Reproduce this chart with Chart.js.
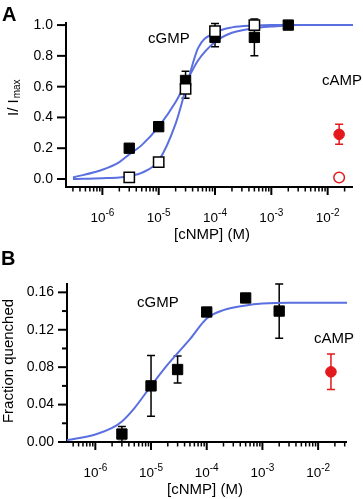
<!DOCTYPE html>
<html>
<head>
<meta charset="utf-8">
<script src="https://cdn.jsdelivr.net/npm/chart.js@4"></script>
<style>
  html, body { margin:0; padding:0; background:#fff; width:363px; height:499px; overflow:hidden; }
  .panel { position:absolute; left:0; width:363px; }
  #wrapA { top:0; height:250px; }
  #wrapB { top:250px; height:249px; }
</style>
</head>
<body>
<div id="wrapA" class="panel"><canvas id="chartA" width="363" height="250"></canvas></div>
<div id="wrapB" class="panel"><canvas id="chartB" width="363" height="249"></canvas></div>
<script>
// ---- shared ticks ----
const X_MAJOR = [1e-6, 1e-5, 1e-4, 1e-3, 1e-2];
const X_MAJOR_EXP = ["-6", "-5", "-4", "-3", "-2"];
const X_MINOR = [3e-7,4e-7,5e-7,6e-7,7e-7,8e-7,9e-7,
                 2e-6,3e-6,4e-6,5e-6,6e-6,7e-6,8e-6,9e-6,
                 2e-5,3e-5,4e-5,5e-5,6e-5,7e-5,8e-5,9e-5,
                 2e-4,3e-4,4e-4,5e-4,6e-4,7e-4,8e-4,9e-4,
                 2e-3,3e-3,4e-3,5e-3,6e-3,7e-3,8e-3,9e-3,
                 2e-2,3e-2];

// ---- panel A: I/Imax ----
const A_Y_MAJOR = [0, 0.2, 0.4, 0.6, 0.8, 1.0];
const A_FILLED_X   = [3e-6, 1e-5, 3e-5, 1e-4, 5e-4, 2e-3];
const A_FILLED_Y   = [0.20, 0.34, 0.64, 0.92, 0.92, 1.00];
const A_FILLED_ERR = [0, 0, 0.06, 0.06, 0.12, 0];
const A_OPEN_X   = [3e-6, 1e-5, 3e-5, 1e-4, 5e-4];
const A_OPEN_Y   = [0.01, 0.11, 0.585, 0.96, 1.00];
const A_OPEN_ERR = [0, 0, 0.06, 0.05, 0];
const A_CAMP_X = [1.6e-2];
const A_CAMP_Y = [0.29];
const A_CAMP_ERR = [0.065];
const A_CAMP_OPEN_X = [1.6e-2];
const A_CAMP_OPEN_Y = [0.01];
const A_FIT_X        = [3e-7, 1e-6, 2e-6, 3e-6, 5e-6, 1e-5, 2e-5, 3e-5, 5e-5, 1e-4, 2e-4, 5e-4, 1e-3, 3e-3, 1e-2, 2.8e-2];
const A_FIT_FILLED_Y = [0.01, 0.06, 0.11, 0.16, 0.22, 0.34, 0.50, 0.62, 0.77, 0.89, 0.95, 0.98, 0.99, 1.0, 1.0, 1.0];
const A_FIT_OPEN_Y   = [0.0, 0.005, 0.01, 0.02, 0.04, 0.12, 0.36, 0.58, 0.85, 0.95, 0.985, 0.997, 1.0, 1.0, 1.0, 1.0];

// ---- panel B: fraction quenched ----
const B_Y_MAJOR = [0, 0.04, 0.08, 0.12, 0.16];
const B_Y_MINOR = [0.02, 0.06, 0.10, 0.14];
const B_GMP_X   = [3e-6, 1e-5, 3e-5, 1e-4, 5e-4, 2e-3];
const B_GMP_Y   = [0.0085, 0.060, 0.0775, 0.139, 0.154, 0.140];
const B_GMP_ERR = [0.008, 0.0325, 0.0145, 0, 0, 0.029];
const B_CAMP_X = [1.7e-2];
const B_CAMP_Y = [0.075];
const B_CAMP_ERR = [0.019];
const B_FIT_X = [3.1e-7, 1e-6, 2e-6, 3e-6, 5e-6, 1e-5, 2e-5, 3e-5, 5e-5, 1e-4, 2e-4, 5e-4, 1e-3, 3e-3, 1e-2, 3.3e-2];
const B_FIT_Y = [0.002, 0.008, 0.015, 0.022, 0.036, 0.060, 0.083, 0.095, 0.110, 0.132, 0.141, 0.146, 0.148, 0.149, 0.149, 0.149];

const BLUE = "#5a6fe0";
const RED = "#e3191b";
const FONT = '"Liberation Sans", Arial, sans-serif';

const pts = (xs, ys) => xs.map((x, i) => ({ x, y: ys[i] }));

function squares(xs, ys, errs, open, order) {
  return { data: pts(xs, ys), errs, errColor: "#000", pointStyle: "rect", pointRadius: 7.3,
    backgroundColor: open ? "#fff" : "#000", borderColor: "#000", borderWidth: open ? 1.5 : 1,
    showLine: false, clip: false, order };
}
function circles(xs, ys, errs, open) {
  return { data: pts(xs, ys), errs, errColor: RED, pointStyle: "circle", pointRadius: 5.3,
    backgroundColor: open ? "#fff" : RED, borderColor: RED, borderWidth: open ? 1.5 : 1,
    showLine: false, clip: false, order: 0 };
}
function fit(xs, ys) {
  return { data: pts(xs, ys), showLine: true, borderColor: BLUE, borderWidth: 2, pointRadius: 0,
    cubicInterpolationMode: "monotone", fill: false, order: 5 };
}

function supLabel(ctx, x, y, exp) {
  ctx.font = "13.5px " + FONT;
  const w1 = ctx.measureText("10").width;
  ctx.font = "10px " + FONT;
  const w2 = ctx.measureText(exp).width;
  const x0 = x - (w1 + w2) / 2;
  ctx.textAlign = "left"; ctx.textBaseline = "alphabetic";
  ctx.font = "13.5px " + FONT;
  ctx.fillText("10", x0, y);
  ctx.font = "10px " + FONT;
  ctx.fillText(exp, x0 + w1, y - 6);
}

function frame(p) {
  return {
    id: "frame",
    beforeDatasetsDraw(chart) {
      const ctx = chart.ctx, xs = chart.scales.x, ys = chart.scales.y, a = chart.chartArea;
      ctx.save();
      ctx.strokeStyle = "#000"; ctx.fillStyle = "#000";
      ctx.lineWidth = 2;
      ctx.beginPath();
      ctx.moveTo(a.left, a.top); ctx.lineTo(a.left, a.bottom); ctx.lineTo(a.right, a.bottom);
      ctx.stroke();

      // x ticks
      X_MINOR.filter(v => v >= p.xmin && v <= p.xmax).forEach(v => {
        const x = xs.getPixelForValue(v);
        ctx.lineWidth = 1.5;
        ctx.beginPath(); ctx.moveTo(x, a.bottom); ctx.lineTo(x, a.bottom + 4.5); ctx.stroke();
      });
      X_MAJOR.forEach((v, i) => {
        const x = xs.getPixelForValue(v);
        ctx.lineWidth = 2;
        ctx.beginPath(); ctx.moveTo(x, a.bottom); ctx.lineTo(x, a.bottom + 8); ctx.stroke();
        supLabel(ctx, x, a.bottom + 35, X_MAJOR_EXP[i]);
      });

      // y ticks
      (p.yMinor || []).forEach(v => {
        const y = ys.getPixelForValue(v);
        ctx.lineWidth = 2;
        ctx.beginPath(); ctx.moveTo(a.left - 5, y); ctx.lineTo(a.left, y); ctx.stroke();
      });
      ctx.font = "14px " + FONT;
      p.yMajor.forEach(v => {
        const y = ys.getPixelForValue(v);
        ctx.lineWidth = 2;
        ctx.beginPath(); ctx.moveTo(a.left - 9, y); ctx.lineTo(a.left, y); ctx.stroke();
        ctx.textAlign = "right"; ctx.textBaseline = "middle";
        ctx.fillText(v.toFixed(p.yDec), a.left - 13, y);
      });

      // error bars
      chart.data.datasets.forEach(ds => {
        if (!ds.errs) return;
        ctx.strokeStyle = ds.errColor; ctx.lineWidth = 1.5;
        ds.data.forEach((d, i) => {
          const e = ds.errs[i];
          if (!e) return;
          const x = xs.getPixelForValue(d.x);
          const y1 = ys.getPixelForValue(d.y + e), y2 = ys.getPixelForValue(d.y - e);
          ctx.beginPath();
          ctx.moveTo(x, y1); ctx.lineTo(x, y2);
          ctx.moveTo(x - 4, y1); ctx.lineTo(x + 4, y1);
          ctx.moveTo(x - 4, y2); ctx.lineTo(x + 4, y2);
          ctx.stroke();
        });
      });

      // titles
      ctx.fillStyle = "#000";
      ctx.font = "15px " + FONT;
      ctx.textAlign = "center"; ctx.textBaseline = "alphabetic";
      ctx.fillText("[cNMP] (M)", p.xTitleX, a.bottom + 52);
      ctx.textAlign = "left";
      p.notes.forEach(n => { ctx.fillStyle = n.color; ctx.fillText(n.text, n.x, n.y); });
      ctx.fillStyle = "#000";
      ctx.font = "bold 20px " + FONT;
      ctx.fillText(p.letter, p.letterX, p.letterY);
      p.yTitle(ctx);
      ctx.restore();
    }
  };
}

function makeChart(id, p, datasets) {
  return new Chart(document.getElementById(id), {
    type: "scatter",
    data: { datasets },
    options: {
      responsive: false, animation: false,
      layout: { padding: p.pad },
      plugins: { legend: { display: false }, tooltip: { enabled: false } },
      scales: {
        x: { type: "logarithmic", min: p.xmin, max: p.xmax, display: false },
        y: { type: "linear", min: p.ymin, max: p.ymax, display: false }
      }
    },
    plugins: [frame(p)]
  });
}

makeChart("chartA", {
  xmin: 2.26e-7, xmax: 2.82e-2, ymin: -0.052, ymax: 1.02,
  pad: { left: 66, right: 10, top: 22, bottom: 63 },
  yMajor: A_Y_MAJOR, yDec: 1, xTitleX: 212,
  letter: "A", letterX: 2, letterY: 21,
  notes: [{ text: "cGMP", x: 148, y: 43, color: "#000" }, { text: "cAMP", x: 322, y: 85, color: "#000" }],
  yTitle(ctx) {
    ctx.save();
    ctx.translate(18, 116); ctx.rotate(-Math.PI / 2);
    ctx.textAlign = "left"; ctx.textBaseline = "alphabetic";
    ctx.font = "15px " + FONT;
    ctx.fillText("I/ I", 0, 0);
    const w = ctx.measureText("I/ I").width;
    ctx.font = "10px " + FONT;
    ctx.fillText("max", w + 1, 2);
    ctx.restore();
  }
}, [
  squares(A_OPEN_X, A_OPEN_Y, A_OPEN_ERR, true, 0),
  squares(A_FILLED_X, A_FILLED_Y, A_FILLED_ERR, false, 1),
  circles(A_CAMP_X, A_CAMP_Y, A_CAMP_ERR, false),
  circles(A_CAMP_OPEN_X, A_CAMP_OPEN_Y, null, true),
  fit(A_FIT_X, A_FIT_FILLED_Y),
  fit(A_FIT_X, A_FIT_OPEN_Y)
]);

makeChart("chartB", {
  xmin: 3.1e-7, xmax: 3.3e-2, ymin: 0, ymax: 0.17,
  pad: { left: 67, right: 16, top: 33, bottom: 57 },
  yMajor: B_Y_MAJOR, yMinor: B_Y_MINOR, yDec: 2, xTitleX: 205,
  letter: "B", letterX: 1, letterY: 15,
  notes: [{ text: "cGMP", x: 137, y: 57, color: "#000" }, { text: "cAMP", x: 314, y: 93, color: "#000" }],
  yTitle(ctx) {
    ctx.save();
    ctx.translate(13, 111); ctx.rotate(-Math.PI / 2);
    ctx.textAlign = "center"; ctx.textBaseline = "alphabetic";
    ctx.font = "15px " + FONT;
    ctx.fillText("Fraction quenched", 0, 0);
    ctx.restore();
  }
}, [
  squares(B_GMP_X, B_GMP_Y, B_GMP_ERR, false, 0),
  circles(B_CAMP_X, B_CAMP_Y, B_CAMP_ERR, false),
  fit(B_FIT_X, B_FIT_Y)
]);
</script>
</body>
</html>
